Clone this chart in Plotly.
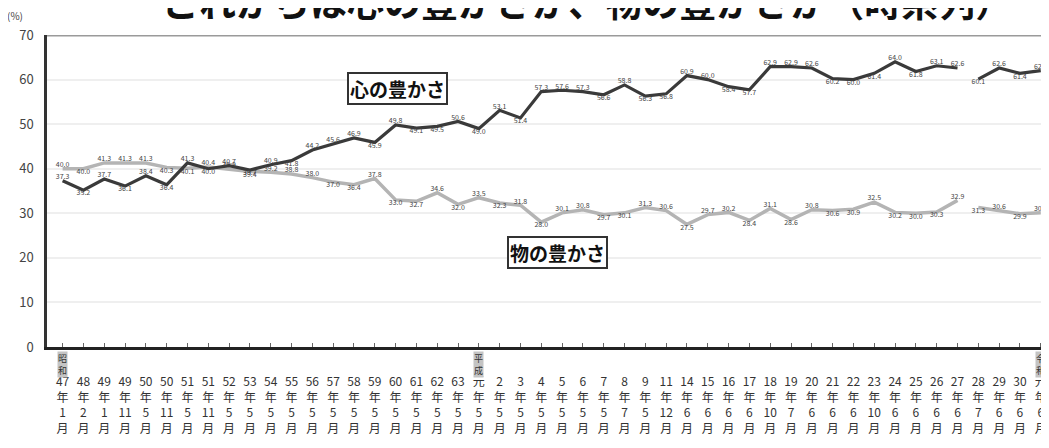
import plotly.graph_objects as go

# ---- data ----
years = ["47", "48", "49", "49", "50", "50", "51", "51", "52", "53", "54", "55", "56", "57",
         "58", "59", "60", "61", "62", "63",
         "元", "2", "3", "4", "5", "6", "7", "8", "9", "11",
         "14", "15", "16", "17", "18", "19", "20", "21", "22", "23", "24", "25", "26", "27",
         "28", "29", "30",
         "元"]
months = ["1", "2", "1", "11", "5", "11", "5", "11", "5", "5", "5", "5", "5", "5",
          "5", "5", "5", "5", "5", "5",
          "5", "5", "5", "5", "5", "5", "5", "7", "5", "12",
          "6", "6", "6", "6", "10", "7", "6", "6", "6", "10", "6", "6", "6", "6",
          "7", "6", "6",
          "6"]
eras = {0: "昭<br>和", 20: "平<br>成", 47: "令<br>和"}

kokoro = [37.3, 35.2, 37.7, 36.1, 38.4, 36.4, 41.3, 40.0, 40.7, 39.7, 40.9, 41.8, 44.2, 45.6,
          46.9, 45.9, 49.8, 49.1, 49.5, 50.6, 49.0, 53.1, 51.4, 57.3, 57.6, 57.3, 56.6, 58.8,
          56.3, 56.8, 60.9, 60.0, 58.4, 57.7, 62.9, 62.9, 62.6, 60.2, 60.0, 61.4, 64.0, 61.8,
          63.1, 62.6, 60.1, 62.6, 61.4, 62.0]
mono = [40.0, 40.0, 41.3, 41.3, 41.3, 40.3, 40.1, 40.4, 39.9, 39.4, 39.2, 38.8, 38.0, 37.0,
        36.4, 37.8, 33.0, 32.7, 34.6, 32.0, 33.5, 32.3, 31.8, 28.0, 30.1, 30.8, 29.7, 30.1,
        31.3, 30.6, 27.5, 29.7, 30.2, 28.4, 31.1, 28.6, 30.8, 30.6, 30.9, 32.5, 30.2, 30.0,
        30.3, 32.9, 31.3, 30.6, 29.9, 30.1]
break_at = 44  # survey method changed: line is broken before this index

FONT = "Noto Sans CJK JP"
n = len(years)
xs = list(range(n))
ticktext = [f"{y}<br>年<br>{m}<br>月" for y, m in zip(years, months)]


def positions(vals):
    pos = []
    for i, v in enumerate(vals):
        nb = [vals[j] for j in (i - 1, i + 1) if 0 <= j < len(vals)]
        pos.append("top center" if v >= sum(nb) / len(nb) else "bottom center")
    return pos


fig = go.Figure()
for vals, color, width in ((mono, "#b4b4b4", 3.5), (kokoro, "#3a3a3a", 3.2)):
    pos = positions(vals)
    for a, b in ((0, break_at), (break_at, n)):
        fig.add_trace(go.Scatter(
            x=xs[a:b], y=vals[a:b], mode="lines+text",
            line=dict(color=color, width=width),
            text=[f"{v:.1f}" for v in vals[a:b]],
            textposition=pos[a:b],
            textfont=dict(family=FONT, size=7, color="#444"),
            showlegend=False, hoverinfo="skip", cliponaxis=False))

# the page body adds an 8px offset, so the figure is smaller and shifted
fig.update_layout(
    width=1041, height=440,
    margin=dict(l=39, r=2, t=27, b=101, autoexpand=False),
    paper_bgcolor="white", plot_bgcolor="white",
    font=dict(family=FONT, color="#333"),
    showlegend=False,
)
fig.update_xaxes(
    range=[-0.75, n - 0.7], tickvals=xs, ticktext=ticktext,
    tickfont=dict(family=FONT, size=12, color="#333"),
    ticks="inside", ticklen=4, tickcolor="#666",
    showline=True, linecolor="#222", linewidth=2.5,
    showgrid=False, zeroline=False, ticklabelstandoff=22,
    automargin=False,
)
fig.update_yaxes(
    range=[0, 70], tickvals=[0, 10, 20, 30, 40, 50, 60, 70],
    tickfont=dict(family=FONT, size=13, color="#444"),
    showline=True, linecolor="#333", linewidth=2.5,
    showgrid=True, gridcolor="#efefef", gridwidth=2,
    zeroline=False, ticks="", ticklabelstandoff=8,
    automargin=False,
)
# top frame line
fig.add_shape(type="line", xref="paper", yref="y", x0=0, x1=1, y0=70, y1=70,
              line=dict(color="#9a9a9a", width=3))

# title (partly cut at the top in the reference)
fig.add_annotation(text="これからは心の豊かさか、物の豊かさか（時系列）",
                   xref="paper", yref="paper", x=0.54, y=1.109,
                   xanchor="center", yanchor="middle", showarrow=False,
                   font=dict(family=FONT, size=37, color="#111", weight="bold"))
fig.add_annotation(text="(%)", xref="paper", yref="paper", x=-0.032, y=1.061,
                   xanchor="center", yanchor="middle", showarrow=False,
                   font=dict(family=FONT, size=10, color="#444"))

# series name boxes
fig.add_annotation(text="心の豊かさ", x=16.07, y=58.1, showarrow=False,
                   font=dict(family=FONT, size=19, color="#111", weight="bold"),
                   bgcolor="white", bordercolor="#333", borderwidth=2, borderpad=1)
fig.add_annotation(text="物の豊かさ", x=23.76, y=21.3, showarrow=False,
                   font=dict(family=FONT, size=19, color="#111", weight="bold"),
                   bgcolor="white", bordercolor="#333", borderwidth=2, borderpad=1)

# era markers above the tick labels
for i, t in eras.items():
    fig.add_annotation(text=t, x=i, xref="x", yref="paper", y=-0.055,
                       xanchor="center", yanchor="middle", showarrow=False,
                       font=dict(family=FONT, size=9, color="#333"),
                       bgcolor="#c4c4c4", borderpad=0)

fig.write_html("out.html")
